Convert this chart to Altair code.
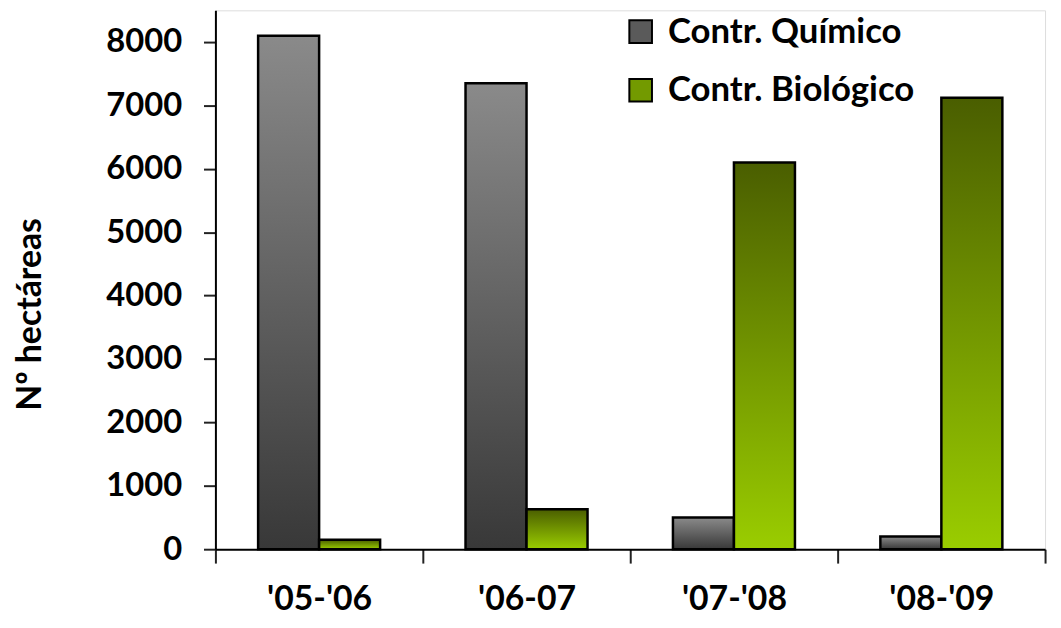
import altair as alt
import pandas as pd

seasons = ["'05-'06", "'06-07", "'07-'08", "'08-'09"]
series = ["Contr. Químico", "Contr. Biológico"]
quimico = [8100, 7350, 500, 200]
biologico = [150, 630, 6100, 7120]
y_ticks = [0, 1000, 2000, 3000, 4000, 5000, 6000, 7000, 8000]

rows = []
for i, s in enumerate(seasons):
    rows.append({"season": s, "series": series[0], "value": quimico[i]})
    rows.append({"season": s, "series": series[1], "value": biologico[i]})
df = pd.DataFrame(rows)

FONT = "Lato"

grad_q = alt.Gradient(
    gradient="linear", x1=0, x2=0, y1=0, y2=1,
    stops=[alt.GradientStop(offset=0, color="#8a8a8a"),
           alt.GradientStop(offset=1, color="#383838")],
)
grad_b = alt.Gradient(
    gradient="linear", x1=0, x2=0, y1=0, y2=1,
    stops=[alt.GradientStop(offset=0, color="#4a5e00"),
           alt.GradientStop(offset=1, color="#9acd00")],
)

x_enc = alt.X(
    "season:N", sort=seasons,
    scale=alt.Scale(paddingInner=0, paddingOuter=0),
    axis=alt.Axis(
        title=None, labelAngle=0, tickBand="extent",
        labelFont=FONT, labelFontSize=34, labelFontWeight="bold", labelColor="black",
        labelPadding=20, tickSize=14, tickWidth=2, tickColor="#222",
        domainColor="black", domainWidth=2,
    ),
)
xo_enc = alt.XOffset("series:N", sort=series,
                     scale=alt.Scale(domain=series, paddingOuter=0.7, paddingInner=0))
y_enc = alt.Y(
    "value:Q",
    scale=alt.Scale(domain=[0, 8500], nice=False),
    axis=alt.Axis(
        title="Nº hectáreas", values=y_ticks, format="d", grid=False,
        labelFont=FONT, labelFontSize=33, labelFontWeight="bold", labelColor="black",
        labelPadding=22, tickSize=12, tickWidth=2, tickColor="#222",
        domainColor="black", domainWidth=2,
        titleFont=FONT, titleFontSize=34, titleFontWeight="bold", titleColor="black",
        titlePadding=59, titleY=306,
    ),
)

base = alt.Chart(df).encode(x=x_enc, xOffset=xo_enc, y=y_enc)

bars_q = base.transform_filter(alt.datum.series == series[0]).mark_bar(
    color=grad_q, stroke="black", strokeWidth=2.5
)
bars_b = base.transform_filter(alt.datum.series == series[1]).mark_bar(
    color=grad_b, stroke="black", strokeWidth=2.5
)

legend_layer = base.mark_point(shape="square", filled=True, opacity=0).encode(
    color=alt.Color(
        "series:N", sort=series,
        scale=alt.Scale(domain=series, range=["#5a5a5a", "#739a00"]),
        legend=alt.Legend(
            title=None, orient="none", legendX=411, legendY=4,
            symbolType="square", symbolSize=520, symbolOpacity=1,
            symbolStrokeColor="black", symbolStrokeWidth=2,
            labelFont=FONT, labelFontSize=35, labelFontWeight="bold", labelColor="black",
            labelOffset=10, rowPadding=23, labelLimit=500,
        ),
    )
)

chart = alt.layer(bars_q, bars_b, legend_layer).properties(
    width=836, height=543,
    autosize=alt.AutoSizeParams(type="none"),
    padding={"left": 209, "top": 0, "right": 8, "bottom": 69},
).configure_view(stroke=None).configure(background="white")

chart.save("out.html", embed_options={"renderer": "svg", "actions": False})
